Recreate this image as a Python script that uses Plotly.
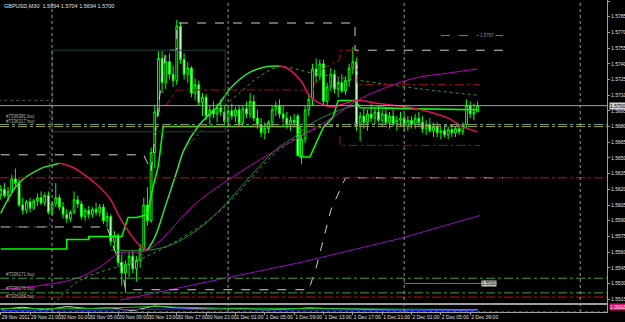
import plotly.graph_objects as go

# ---------------- data ----------------
tick_idx = [0, 8, 16, 24, 32, 40, 48, 56, 64, 72, 80, 88, 96, 104, 112, 120, 128]
tick_text = ["29 Nov 2011", "29 Nov 21:00", "30 Nov 01:00", "30 Nov 05:00", "30 Nov 09:00",
             "30 Nov 13:00", "30 Nov 17:00", "30 Nov 21:00", "1 Dec 01:00", "1 Dec 05:00",
             "1 Dec 09:00", "1 Dec 13:00", "1 Dec 17:00", "1 Dec 21:00", "2 Dec 01:00",
             "2 Dec 05:00", "2 Dec 09:00"]
price_ticks = [1.5515, 1.5530, 1.5545, 1.5560, 1.5575, 1.5590, 1.5605, 1.5620, 1.5635, 1.5650,
               1.5665, 1.5680, 1.5695, 1.5710, 1.5725, 1.5740, 1.5755, 1.5770, 1.5785, 1.5800]

opens = [1.5615, 1.5620, 1.5614, 1.5618, 1.5630, 1.5626, 1.5605, 1.5600, 1.5608, 1.5602,
         1.5609, 1.5612, 1.5607, 1.5614, 1.5598, 1.5606, 1.5612, 1.5603, 1.5596, 1.5592,
         1.5598, 1.5610, 1.5606, 1.5594, 1.5600, 1.5596, 1.5601, 1.5598, 1.5603, 1.5590,
         1.5594, 1.5570, 1.5576, 1.5550, 1.5540, 1.5548, 1.5556, 1.5544, 1.5552, 1.5563,
         1.5605, 1.5590, 1.5655, 1.5694, 1.5745, 1.5722, 1.5742, 1.5730, 1.5724, 1.5776,
         1.5744, 1.5730, 1.5736, 1.5712, 1.5720, 1.5703, 1.5708, 1.5690, 1.5696, 1.5692,
         1.5698, 1.5694, 1.5685, 1.5695, 1.5690, 1.5696, 1.5683, 1.5697, 1.5692, 1.5704,
         1.5688, 1.5682, 1.5674, 1.5678, 1.5684, 1.5696, 1.5700, 1.5692, 1.5688, 1.5682,
         1.5686, 1.5690, 1.5652, 1.5668, 1.5696, 1.5706, 1.5735, 1.5728, 1.5740, 1.5704,
         1.5718, 1.5730, 1.5716, 1.5722, 1.5714, 1.5724, 1.5736, 1.5742, 1.5680, 1.5690,
         1.5684, 1.5692, 1.5688, 1.5694, 1.5686, 1.5692, 1.5684, 1.5690, 1.5682, 1.5686,
         1.5688, 1.5680, 1.5686, 1.5682, 1.5688, 1.5684, 1.5678, 1.5682, 1.5676, 1.5680,
         1.5674, 1.5676, 1.5672, 1.5677, 1.5674, 1.5678, 1.5675, 1.5682, 1.5700, 1.5692,
         1.5694]
highs = [1.5624, 1.5626, 1.5622, 1.5634, 1.5640, 1.5630, 1.5612, 1.5610, 1.5612, 1.5611,
         1.5616, 1.5618, 1.5617, 1.5618, 1.5608, 1.5626, 1.5615, 1.5608, 1.5601, 1.5600,
         1.5618, 1.5614, 1.5609, 1.5602, 1.5604, 1.5603, 1.5607, 1.5606, 1.5606, 1.5598,
         1.5596, 1.5580, 1.5578, 1.5558, 1.5552, 1.5560, 1.5562, 1.5556, 1.5568, 1.5612,
         1.5622, 1.5660, 1.5700, 1.5752, 1.5752, 1.5748, 1.5750, 1.5738, 1.5782, 1.5780,
         1.5750, 1.5742, 1.5738, 1.5726, 1.5724, 1.5712, 1.5711, 1.5700, 1.5704, 1.5702,
         1.5706, 1.5700, 1.5698, 1.5702, 1.5699, 1.5700, 1.5700, 1.5704, 1.5712, 1.5710,
         1.5696, 1.5688, 1.5684, 1.5686, 1.5700, 1.5704, 1.5706, 1.5700, 1.5694, 1.5690,
         1.5692, 1.5692, 1.5672, 1.5700, 1.5712, 1.5740, 1.5745, 1.5744, 1.5744, 1.5722,
         1.5736, 1.5734, 1.5726, 1.5730, 1.5728, 1.5740, 1.5756, 1.5746, 1.5694, 1.5698,
         1.5696, 1.5702, 1.5698, 1.5700, 1.5696, 1.5698, 1.5694, 1.5696, 1.5690, 1.5694,
         1.5692, 1.5690, 1.5690, 1.5692, 1.5694, 1.5690, 1.5686, 1.5688, 1.5684, 1.5684,
         1.5680, 1.5682, 1.5680, 1.5682, 1.5680, 1.5682, 1.5684, 1.5706, 1.5704, 1.5702,
         1.5704]
lows = [1.5610, 1.5612, 1.5608, 1.5616, 1.5622, 1.5603, 1.5596, 1.5597, 1.5598, 1.5600,
        1.5604, 1.5605, 1.5604, 1.5596, 1.5595, 1.5603, 1.5600, 1.5592, 1.5588, 1.5589,
        1.5596, 1.5602, 1.5591, 1.5590, 1.5592, 1.5593, 1.5595, 1.5594, 1.5587, 1.5584,
        1.5566, 1.5562, 1.5546, 1.5528, 1.5521, 1.5536, 1.5540, 1.5532, 1.5545, 1.5560,
        1.5585, 1.5588, 1.5640, 1.5690, 1.5712, 1.5716, 1.5725, 1.5718, 1.5720, 1.5740,
        1.5725, 1.5722, 1.5708, 1.5705, 1.5700, 1.5690, 1.5686, 1.5682, 1.5688, 1.5684,
        1.5690, 1.5682, 1.5680, 1.5686, 1.5684, 1.5680, 1.5680, 1.5688, 1.5688, 1.5685,
        1.5678, 1.5670, 1.5668, 1.5674, 1.5680, 1.5690, 1.5688, 1.5684, 1.5678, 1.5676,
        1.5680, 1.5654, 1.5644, 1.5664, 1.5690, 1.5700, 1.5722, 1.5724, 1.5700, 1.5700,
        1.5714, 1.5712, 1.5708, 1.5712, 1.5710, 1.5718, 1.5730, 1.5676, 1.5666, 1.5678,
        1.5676, 1.5684, 1.5682, 1.5684, 1.5680, 1.5682, 1.5678, 1.5680, 1.5676, 1.5680,
        1.5676, 1.5676, 1.5678, 1.5678, 1.5680, 1.5674, 1.5672, 1.5674, 1.5670, 1.5670,
        1.5668, 1.5670, 1.5668, 1.5670, 1.5670, 1.5672, 1.5672, 1.5678, 1.5688, 1.5686,
        1.5694]
closes = [1.5620, 1.5614, 1.5618, 1.5630, 1.5626, 1.5605, 1.5600, 1.5608, 1.5602, 1.5609,
          1.5612, 1.5607, 1.5614, 1.5598, 1.5606, 1.5612, 1.5603, 1.5596, 1.5592, 1.5598,
          1.5610, 1.5606, 1.5594, 1.5600, 1.5596, 1.5601, 1.5598, 1.5603, 1.5590, 1.5594,
          1.5570, 1.5576, 1.5550, 1.5540, 1.5548, 1.5556, 1.5544, 1.5552, 1.5563, 1.5605,
          1.5590, 1.5655, 1.5694, 1.5745, 1.5722, 1.5742, 1.5730, 1.5724, 1.5776, 1.5744,
          1.5730, 1.5736, 1.5712, 1.5720, 1.5703, 1.5708, 1.5690, 1.5696, 1.5692, 1.5698,
          1.5694, 1.5685, 1.5695, 1.5690, 1.5696, 1.5683, 1.5697, 1.5692, 1.5704, 1.5688,
          1.5682, 1.5674, 1.5678, 1.5684, 1.5696, 1.5700, 1.5692, 1.5688, 1.5682, 1.5686,
          1.5684, 1.5652, 1.5668, 1.5696, 1.5706, 1.5735, 1.5728, 1.5740, 1.5704, 1.5718,
          1.5730, 1.5716, 1.5722, 1.5714, 1.5724, 1.5736, 1.5742, 1.5680, 1.5690, 1.5684,
          1.5692, 1.5688, 1.5694, 1.5686, 1.5692, 1.5684, 1.5690, 1.5682, 1.5686, 1.5688,
          1.5680, 1.5686, 1.5682, 1.5688, 1.5684, 1.5678, 1.5682, 1.5676, 1.5680, 1.5674,
          1.5676, 1.5672, 1.5677, 1.5674, 1.5678, 1.5675, 1.5682, 1.5700, 1.5692, 1.5694,
          1.5700]

# colour-changing moving average: (bar, price)
ma_up1_x = [0, 5, 11, 14, 16]
ma_up1_y = [1.5597, 1.5626, 1.5640, 1.5643, 1.5645]
ma_dn1_x = [16, 19, 22, 27, 30, 32, 35, 38, 40]
ma_dn1_y = [1.5645, 1.5642, 1.5636, 1.5622, 1.5610, 1.5596, 1.5579, 1.5566, 1.5562]
ma_up2_x = [40, 42, 45, 48, 50, 54, 59, 63, 68, 72, 76]
ma_up2_y = [1.5562, 1.5574, 1.5605, 1.5637, 1.5658, 1.5681, 1.5699, 1.5718, 1.5732, 1.5737, 1.5738]
ma_dn2_x = [76, 78, 82, 84, 86, 90, 93, 97, 103, 112, 117, 122, 126, 130]
ma_dn2_y = [1.5738, 1.5736, 1.5723, 1.5710, 1.5704, 1.5699, 1.5701, 1.5705, 1.5702, 1.5698,
            1.5694, 1.5688, 1.5680, 1.5675]

# bright green step line
kijun_x = [0, 18, 18, 24, 24, 33, 34.7, 37, 40, 41.3, 43, 44.3, 81.6, 81.6, 84.3, 87.9, 90.6, 92, 96.6, 98, 130]
kijun_y = [1.5563, 1.5563, 1.5572, 1.5572, 1.5575, 1.5575, 1.5593, 1.5593, 1.5596, 1.5619, 1.5643,
           1.5680, 1.5680, 1.5651, 1.5651, 1.5679, 1.5689, 1.5705, 1.5705, 1.5698, 1.5696]

# slower green averages
dgreen_x = [30, 44, 55, 75, 80, 85.2, 90.6, 97, 110, 130]
dgreen_y = [1.5562, 1.5564, 1.5585, 1.5658, 1.5670, 1.5684, 1.5693, 1.5700, 1.5697, 1.5696]
dotg1_x = [50, 55, 60, 65, 71, 76, 85.2, 98, 114.5, 130]
dotg1_y = [1.5658, 1.5677, 1.5696, 1.5712, 1.5729, 1.5737, 1.5731, 1.5724, 1.5716, 1.5710]
dotg2_x = [14.3, 21.6, 38, 50, 60, 76, 85.2, 94.4, 130]
dotg2_y = [1.5510, 1.5533, 1.5553, 1.5575, 1.5600, 1.5658, 1.5677, 1.5682, 1.5680]

# magenta / purple averages
mag_x = [0, 10.7, 20.8, 27.1, 32.5, 40, 54.4, 75.3, 81.6, 90.6, 97.2, 103.4, 112.4, 121.7, 130]
mag_y = [1.5524, 1.5528, 1.5535, 1.5546, 1.5559, 1.5562, 1.5610, 1.5658, 1.5670, 1.5689, 1.5705,
         1.5715, 1.5726, 1.5731, 1.5735]
pur_x = [32.5, 54.4, 81.6, 108.9, 130.7]
pur_y = [1.5514, 1.5530, 1.5550, 1.5573, 1.5595]

# white dashed channel
dch_hi_x = [0, 39, 41, 43, 45, 48, 48, 96.6, 96.6, 137]
dch_hi_y = [1.5653, 1.5653, 1.5637, 1.5700, 1.5753, 1.5753, 1.5779, 1.5779, 1.5753, 1.5753]
dch_lo_x = [0, 29, 31, 33, 34, 84, 86, 90, 94, 137]
dch_lo_y = [1.5584, 1.5584, 1.5562, 1.5546, 1.5524, 1.5524, 1.5545, 1.5600, 1.5631, 1.5631]

# dark red dash-dot channel
red_hi_x = [44.8, 48, 85.2, 86.3, 92.5, 92.5, 97.2, 97.2, 130.7]
red_hi_y = [1.5699, 1.5715, 1.5715, 1.5732, 1.5744, 1.5753, 1.5753, 1.5720, 1.5720]
red_lo_x = [92.5, 92.5, 130.7]
red_lo_y = [1.5671, 1.5662, 1.5662]

# range boxes (bar0, bar1, price_low, price_high)
box_teal = [14, 61.2, 1.5675, 1.5753]
box_grey = [-1, 13.4, 1.5584, 1.5705]

# horizontal order levels
levels = [1.5682, 1.5680, 1.5631, 1.5535, 1.5521, 1.5517]
level_colors = ["#6f9f7f", "#a0a030", "#c01010", "#3fa03f", "#3fa03f", "#c01010"]
level_labels = ["#7336381 buy", "#7336317 buy", "", "#7336171 buy", "#7336170 buy", "#7336169 buy"]
label_prices = [1.5690, 1.5685, None, 1.5539, 1.5525, 1.5518]

# right-hand short reference lines
ref_levels = [1.5767, 1.5530]
ref_labels = ["1.5767", "1.5530"]

# sub-window oscillator
osc_x = [0, 6, 12, 18, 24, 30, 36, 42, 48, 54, 60, 66, 72, 78, 84, 90, 96, 102, 108, 114, 120, 126, 130]
osc_a = [0.4, 0.7, 0.3, 0.8, 0.5, 0.6, 0.2, 0.9, 0.6, 0.5, 0.4, 0.5, 0.3, 0.4, 0.6, 0.5, 0.4, 0.3, 0.3, 0.2, 0.3, 0.2, 0.3]
osc_b = [0.2, 0.25, 0.2, 0.3, 0.25, 0.3, 0.35, 0.5, 0.45, 0.4, 0.35, 0.3, 0.3, 0.28, 0.3, 0.3, 0.25, 0.25, 0.2, 0.2, 0.2, 0.18, 0.2]
osc_c = [0.5, 0.45, 0.5, 0.55, 0.5, 0.6, 0.65, 0.8, 0.7, 0.6, 0.55, 0.55, 0.5, 0.5, 0.5, 0.48, 0.45, 0.4, 0.4, 0.38, 0.35, 0.35, 0.35]

# ---------------- figure ----------------
bars = list(range(len(opens)))
fig = go.Figure()

def line(x, y, color, width=1, dash="solid", shape="linear", xa="x", ya="y"):
    fig.add_trace(go.Scatter(x=x, y=y, mode="lines", line=dict(color=color, width=width, dash=dash, shape=shape),
                             hoverinfo="skip", showlegend=False, xaxis=xa, yaxis=ya))

fig.add_shape(type="rect", xref="x", yref="y", x0=box_teal[0], x1=box_teal[1], y0=box_teal[2], y1=box_teal[3],
              line=dict(color="#1a4444", width=1))
fig.add_shape(type="rect", xref="x", yref="y", x0=box_grey[0], x1=box_grey[1], y0=box_grey[2], y1=box_grey[3],
              line=dict(color="#505050", width=1, dash="dot"))
for lv, col in zip(levels, level_colors):
    fig.add_shape(type="line", xref="paper", x0=0, x1=1, yref="y", y0=lv, y1=lv,
                  line=dict(color=col, width=1, dash="dashdot"))
fig.add_shape(type="line", xref="paper", x0=0, x1=1, yref="y", y0=1.5700, y1=1.5700,
              line=dict(color="#a0a0a0", width=1))
for d in [14, 62, 110, 158]:
    fig.add_shape(type="line", xref="x", x0=d, x1=d, yref="paper", y0=0, y1=1,
                  line=dict(color="#9a9a9a", width=1, dash="dot"))
fig.add_shape(type="line", xref="x", x0=120, x1=137, yref="y", y0=ref_levels[0], y1=ref_levels[0],
              line=dict(color="#808080", width=1, dash="dash"))
fig.add_shape(type="line", xref="x", x0=110, x1=135, yref="y", y0=ref_levels[1], y1=ref_levels[1],
              line=dict(color="#707070", width=1))

line(pur_x, pur_y, "#9010c0", 1)
line(dgreen_x, dgreen_y, "#2a8a2a", 1, shape="spline")
line(dotg1_x, dotg1_y, "#3c9a3c", 1, "dot", shape="spline")
line(dotg2_x, dotg2_y, "#3c9a3c", 1, "dot", shape="spline")
line(mag_x, mag_y, "#c000c0", 1, shape="spline")
line(red_hi_x, red_hi_y, "#a01010", 1, "dashdot")
line(red_lo_x, red_lo_y, "#a01010", 1, "dashdot")
line(dch_hi_x, dch_hi_y, "#d0d0d0", 1, "dash")
line(dch_lo_x, dch_lo_y, "#d0d0d0", 1, "dash")
line(kijun_x, kijun_y, "#00ff00", 1.5)

fig.add_trace(go.Candlestick(x=bars, open=opens, high=highs, low=lows, close=closes,
                             increasing=dict(line=dict(color="#00ff00", width=1), fillcolor="#000000"),
                             decreasing=dict(line=dict(color="#00ff00", width=1), fillcolor="#e8ffe8"),
                             whiskerwidth=0, hoverinfo="skip", showlegend=False))

line(ma_up1_x, ma_up1_y, "#33e033", 1.5, shape="spline")
line(ma_dn1_x, ma_dn1_y, "#e0105a", 1.5, shape="spline")
line(ma_up2_x, ma_up2_y, "#33e033", 1.5, shape="spline")
line(ma_dn2_x, ma_dn2_y, "#e0105a", 1.5, shape="spline")

line(osc_x, osc_a, "#d0d0d0", 1, xa="x2", ya="y2")
line(osc_x, osc_c, "#20c020", 1, xa="x2", ya="y2")
line(osc_x, osc_b, "#2030ff", 1, xa="x2", ya="y2")
fig.add_shape(type="line", xref="x2", x0=-1, x1=170, yref="y2", y0=0.05, y1=0.05,
              line=dict(color="#d01040", width=1, dash="dot"))

FAM = "Liberation Sans"
font = dict(family=FAM, size=5, color="#e0e0e0")
fig.update_layout(
    width=625, height=322, margin=dict(l=0, r=18, t=0, b=10, autoexpand=False),
    paper_bgcolor="#000000", plot_bgcolor="#000000", font=font,
    xaxis=dict(range=[-0.2, 165.3], domain=[0, 1], showgrid=False, zeroline=False, showticklabels=False,
               showline=True, mirror=True, linecolor="#a0a0a0", rangeslider=dict(visible=False), anchor="y",
               automargin=False),
    yaxis=dict(range=[1.55113, 1.58010], domain=[0.0288, 1], side="right", showgrid=False, zeroline=False,
               tickvals=price_ticks, ticktext=[f"{v:.4f}" for v in price_ticks], ticks="outside", ticklen=2,
               tickcolor="#a0a0a0", showline=True, mirror=True, linecolor="#a0a0a0", tickfont=font,
               automargin=False),
    xaxis2=dict(range=[-0.2, 165.3], domain=[0, 1], anchor="y2", showgrid=False, zeroline=False,
                tickvals=tick_idx, ticktext=tick_text, ticks="outside", ticklen=2, tickcolor="#a0a0a0",
                tickangle=0, ticklabelposition="outside right", showline=True, mirror=True,
                linecolor="#a0a0a0", tickfont=font, automargin=False),
    yaxis2=dict(range=[0, 1], domain=[0, 0.022], side="right", showgrid=False, zeroline=False,
                showticklabels=False, showline=True, mirror=True, linecolor="#a0a0a0", automargin=False),
)

fig.add_annotation(xref="paper", yref="paper", x=0.004, y=0.996, xanchor="left", yanchor="top",
                   text="GBPUSD,M30  1.5694 1.5704 1.5694 1.5700", showarrow=False,
                   font=dict(family=FAM, size=5.5, color="#e0e0e0"))
for lp, lab in zip(label_prices, level_labels):
    if lab:
        fig.add_annotation(xref="paper", yref="y", x=0.006, y=lp, xanchor="left", yanchor="middle",
                           text=lab, showarrow=False, font=dict(family=FAM, size=4.5, color="#b0b0b0"))
fig.add_annotation(xref="x", yref="y", x=130, y=ref_levels[0], xanchor="left", yanchor="middle",
                   text=ref_labels[0], showarrow=False, bgcolor="#000000",
                   font=dict(family=FAM, size=4.5, color="#909090"))
fig.add_annotation(xref="x", yref="y", x=131, y=ref_levels[1], xanchor="left", yanchor="middle",
                   text=ref_labels[1], showarrow=False, bgcolor="#c8c8c8", borderpad=0,
                   font=dict(family=FAM, size=4.5, color="#000000"))
fig.add_annotation(xref="paper", yref="y", x=1.003, y=1.5700, xanchor="left", yanchor="middle",
                   text="1.5700", showarrow=False, bgcolor="#d0d0d0", borderpad=0,
                   font=dict(family=FAM, size=5, color="#000000"))
fig.add_annotation(xref="paper", yref="paper", x=1.003, y=0.003, xanchor="left", yanchor="bottom",
                   text="1.0002", showarrow=False, bgcolor="#e0106a", borderpad=0,
                   font=dict(family=FAM, size=5, color="#ffffff"))

fig.write_html("out.html")
